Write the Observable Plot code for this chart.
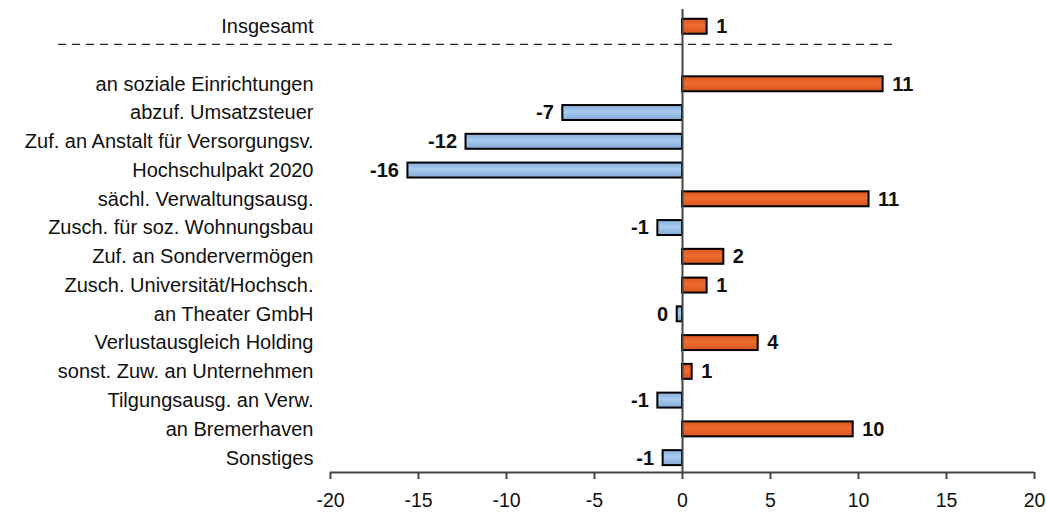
<!DOCTYPE html>
<html>
<head>
<meta charset="utf-8">
<script src="https://cdn.jsdelivr.net/npm/d3@7"></script>
<script src="https://cdn.jsdelivr.net/npm/@observablehq/plot@0.6"></script>
<style>
  html, body { margin: 0; padding: 0; background: #fff; }
  #chart svg { font-family: "Liberation Sans", Arial, sans-serif; display: block; }
</style>
</head>
<body>
<div id="chart"></div>
<script>
// Veränderungen gegenüber Vorjahr (Mio. €), Insgesamt zuerst
const categories = [
  "Insgesamt",
  "an soziale Einrichtungen",
  "abzuf. Umsatzsteuer",
  "Zuf. an Anstalt für Versorgungsv.",
  "Hochschulpakt 2020",
  "sächl. Verwaltungsausg.",
  "Zusch. für soz. Wohnungsbau",
  "Zuf. an Sondervermögen",
  "Zusch. Universität/Hochsch.",
  "an Theater GmbH",
  "Verlustausgleich Holding",
  "sonst. Zuw. an Unternehmen",
  "Tilgungsausg. an Verw.",
  "an Bremerhaven",
  "Sonstiges"
];
const values = [1.4, 11.4, -6.8, -12.3, -15.6, 10.6, -1.4, 2.35, 1.4, -0.3, 4.3, 0.55, -1.4, 9.7, -1.1];
const xTicks = [-20, -15, -10, -5, 0, 5, 10, 15, 20];

// Zeilenposition: nach "Insgesamt" bleibt eine Zeile frei (Trennlinie)
const rows = categories.map((label, k) => ({
  label,
  value: values[k],
  row: k === 0 ? 0 : k + 1
}));

const ORANGE = "url(#barPos)";
const BLUE = "url(#barNeg)";
const half = 0.26;
const fmt = v => String(Math.round(v));

const chart = Plot.plot({
  width: 1047,
  height: 513,
  marginLeft: 330,
  marginRight: 13,
  marginTop: 9,
  marginBottom: 41,
  x: { domain: [-20, 20], axis: null, label: null },
  y: { domain: [-0.6, 15.5], reverse: true, axis: null },
  marks: [
    // Trennlinie unter "Insgesamt"
    Plot.ruleY([0.615], { x1: -35.45, x2: 11.93, stroke: "#222", strokeWidth: 1.3, strokeDasharray: "8,6" }),
    // Balken
    Plot.rect(rows, {
      x1: 0,
      x2: "value",
      y1: d => d.row - half,
      y2: d => d.row + half,
      fill: d => (d.value >= 0 ? ORANGE : BLUE),
      stroke: "#000",
      strokeWidth: 2
    }),
    // Nulllinie
    Plot.ruleX([0], { y1: -0.6, y2: 15.5, stroke: "#444", strokeWidth: 2 }),
    // x-Achse
    Plot.ruleY([15.5], { x1: -20, x2: 20, stroke: "#444", strokeWidth: 2 }),
    Plot.axisX(xTicks, {
      y: 15.5,
      label: null,
      tickFormat: d => String(d),
      tickSize: 7,
      tickPadding: 14,
      fontSize: 19.5,
      stroke: "#444",
      strokeWidth: 2,
      fill: "#111"
    }),
    // Kategoriebeschriftung
    Plot.text(rows, {
      x: -20, y: "row", text: "label",
      textAnchor: "end", dx: -17, fontSize: 20, fill: "#111"
    }),
    // Wertbeschriftung
    Plot.text(rows.filter(d => d.value >= 0), {
      x: "value", y: "row", text: d => fmt(d.value),
      textAnchor: "start", dx: 9, fontSize: 20, fontWeight: "bold", fill: "#111"
    }),
    Plot.text(rows.filter(d => d.value < 0), {
      x: "value", y: "row", text: d => fmt(d.value),
      textAnchor: "end", dx: -9, fontSize: 20, fontWeight: "bold", fill: "#111"
    })
  ]
});

// Verläufe für die Balkenfüllung
const defs = document.createElementNS("http://www.w3.org/2000/svg", "defs");
defs.innerHTML = `
  <linearGradient id="barPos" x1="0" y1="0" x2="0" y2="1">
    <stop offset="0" stop-color="#D9561F"/>
    <stop offset="0.45" stop-color="#EE6C2E"/>
    <stop offset="1" stop-color="#D8541E"/>
  </linearGradient>
  <linearGradient id="barNeg" x1="0" y1="0" x2="0" y2="1">
    <stop offset="0" stop-color="#86AEDC"/>
    <stop offset="0.45" stop-color="#A9CCEF"/>
    <stop offset="1" stop-color="#7FA8D6"/>
  </linearGradient>`;
chart.insertBefore(defs, chart.firstChild);

document.getElementById("chart").appendChild(chart);
</script>
</body>
</html>
